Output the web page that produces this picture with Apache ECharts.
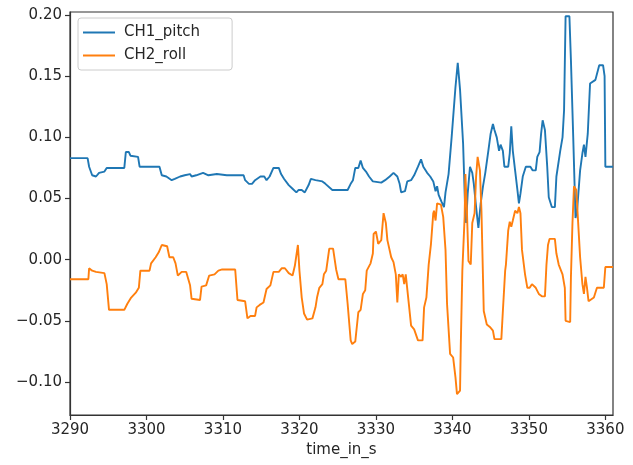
<!DOCTYPE html>
<html>
<head>
<meta charset="utf-8">
<script src="https://cdn.jsdelivr.net/npm/echarts@6/dist/echarts.min.js"></script>
<style>html,body{margin:0;padding:0;background:#fff;}#c{width:633px;height:465px;}</style>
</head>
<body>
<div id="c"></div>
<script>
const seriesNames = ['CH1_pitch', 'CH2_roll'];
const xTicks = [3290, 3300, 3310, 3320, 3330, 3340, 3350, 3360];
const yTicks = [-0.10, -0.05, 0.00, 0.05, 0.10, 0.15, 0.20];

const pitchTime = [3290.0,3292.3,3292.5,3292.9,3293.4,3293.8,3294.5,3294.8,3297.1,3297.3,3297.7,3297.9,3298.9,3299.1,3301.7,3302.0,3302.6,3303.3,3303.7,3304.4,3305.0,3305.7,3305.9,3306.5,3307.4,3308.1,3309.2,3310.5,3312.7,3312.9,3313.4,3313.8,3314.2,3314.9,3315.4,3315.7,3316.1,3316.6,3317.3,3317.6,3318.0,3318.2,3318.6,3319.1,3319.6,3319.9,3320.3,3320.7,3321.2,3321.5,3322.1,3323.0,3323.4,3324.3,3326.3,3326.7,3327.0,3327.3,3327.7,3328.0,3328.3,3328.7,3329.1,3329.6,3330.7,3331.2,3331.8,3332.3,3332.8,3333.1,3333.3,3333.8,3334.1,3334.6,3335.0,3335.5,3335.9,3336.2,3336.7,3337.1,3337.5,3337.8,3338.0,3338.2,3338.6,3338.9,3339.1,3339.5,3339.9,3340.4,3340.7,3341.0,3341.4,3341.7,3341.8,3342.0,3342.3,3342.6,3342.8,3343.1,3343.4,3343.7,3344.0,3344.3,3344.7,3345.0,3345.3,3345.5,3345.8,3346.1,3346.3,3346.6,3346.8,3347.3,3347.5,3347.7,3347.9,3348.2,3348.5,3348.7,3348.9,3349.2,3349.6,3350.2,3350.5,3350.9,3351.1,3351.4,3351.6,3351.8,3352.1,3352.4,3352.6,3353.0,3353.4,3353.6,3354.1,3354.4,3354.6,3354.8,3355.3,3355.5,3355.8,3356.1,3356.3,3356.7,3357.0,3357.2,3357.4,3357.7,3358.0,3358.7,3359.2,3359.7,3359.9,3360.0,3361.0];
const pitchVal = [0.083,0.083,0.076,0.069,0.068,0.071,0.072,0.075,0.075,0.088,0.088,0.085,0.084,0.076,0.076,0.069,0.068,0.065,0.066,0.068,0.069,0.070,0.068,0.069,0.071,0.069,0.070,0.069,0.069,0.065,0.062,0.062,0.065,0.068,0.068,0.065,0.068,0.075,0.075,0.070,0.066,0.065,0.061,0.058,0.055,0.057,0.057,0.055,0.061,0.066,0.065,0.064,0.062,0.057,0.057,0.062,0.065,0.075,0.075,0.081,0.075,0.072,0.068,0.064,0.063,0.065,0.068,0.071,0.068,0.062,0.055,0.056,0.064,0.065,0.069,0.076,0.082,0.076,0.071,0.068,0.064,0.056,0.060,0.053,0.047,0.043,0.055,0.070,0.100,0.141,0.161,0.139,0.095,0.035,0.030,0.054,0.076,0.071,0.062,0.043,0.026,0.046,0.060,0.071,0.089,0.103,0.111,0.106,0.100,0.089,0.094,0.089,0.076,0.076,0.087,0.109,0.089,0.073,0.057,0.046,0.054,0.068,0.076,0.076,0.073,0.073,0.084,0.088,0.103,0.114,0.106,0.076,0.051,0.043,0.043,0.068,0.089,0.100,0.122,0.199,0.199,0.163,0.100,0.034,0.040,0.073,0.087,0.094,0.084,0.103,0.144,0.147,0.159,0.159,0.150,0.076,0.076];

const rollTime = [3290.0,3292.4,3292.5,3292.9,3293.4,3294.5,3294.8,3295.1,3297.1,3297.5,3298.0,3298.6,3299.0,3299.2,3300.4,3300.6,3301.2,3301.6,3302.0,3302.7,3303.0,3303.5,3303.8,3304.1,3304.6,3305.2,3305.7,3305.9,3307.0,3307.2,3307.8,3308.2,3308.9,3309.4,3309.9,3311.6,3311.9,3312.9,3313.2,3313.6,3314.2,3314.4,3314.8,3315.3,3315.7,3316.2,3316.6,3317.3,3317.7,3318.1,3318.6,3319.1,3319.4,3319.8,3320.0,3320.3,3320.6,3321.0,3321.7,3322.1,3322.3,3322.6,3323.0,3323.2,3323.5,3323.9,3324.4,3324.8,3325.1,3326.0,3326.3,3326.7,3326.9,3327.3,3327.7,3328.0,3328.3,3328.6,3328.8,3329.3,3329.6,3329.7,3330.0,3330.3,3330.7,3331.0,3331.3,3331.5,3332.0,3332.3,3332.6,3332.8,3333.0,3333.3,3333.5,3333.7,3333.9,3334.3,3334.6,3335.0,3335.5,3336.1,3336.3,3336.6,3336.9,3337.2,3337.5,3337.6,3337.8,3338.0,3338.2,3338.5,3338.8,3339.1,3339.3,3339.7,3340.1,3340.4,3340.6,3341.0,3341.1,3341.3,3341.6,3341.7,3341.9,3342.1,3342.4,3342.6,3342.9,3343.1,3343.3,3343.6,3343.8,3344.1,3344.5,3344.9,3345.3,3345.5,3346.4,3346.6,3346.9,3347.0,3347.3,3347.5,3347.7,3347.9,3348.2,3348.5,3348.7,3348.9,3349.1,3349.5,3349.8,3350.1,3350.4,3350.9,3351.3,3351.7,3352.1,3352.3,3352.5,3352.7,3353.4,3353.6,3353.9,3354.4,3354.7,3354.8,3355.4,3355.5,3355.7,3355.9,3356.2,3356.4,3356.7,3357.0,3357.2,3357.4,3357.6,3357.8,3358.5,3358.9,3359.8,3360.0,3361.0];
const rollVal = [-0.016,-0.016,-0.007,-0.009,-0.010,-0.011,-0.020,-0.041,-0.041,-0.036,-0.031,-0.027,-0.023,-0.009,-0.009,-0.003,0.002,0.006,0.012,0.011,0.002,0.002,-0.003,-0.013,-0.010,-0.010,-0.021,-0.032,-0.033,-0.022,-0.021,-0.013,-0.012,-0.009,-0.008,-0.008,-0.033,-0.034,-0.048,-0.046,-0.046,-0.039,-0.037,-0.035,-0.024,-0.021,-0.010,-0.010,-0.007,-0.007,-0.011,-0.013,-0.005,0.012,-0.009,-0.031,-0.044,-0.049,-0.048,-0.039,-0.031,-0.023,-0.020,-0.012,-0.009,0.009,0.009,-0.008,-0.016,-0.016,-0.036,-0.066,-0.069,-0.067,-0.043,-0.041,-0.028,-0.025,-0.009,-0.003,0.005,0.021,0.023,0.013,0.016,0.038,0.030,0.016,0.002,-0.002,-0.012,-0.035,-0.012,-0.014,-0.012,-0.020,-0.012,-0.036,-0.054,-0.057,-0.066,-0.066,-0.039,-0.031,-0.004,0.013,0.038,0.040,0.032,0.046,0.046,0.045,0.035,0.008,-0.036,-0.077,-0.080,-0.096,-0.110,-0.107,-0.069,-0.009,0.035,0.070,0.040,-0.001,-0.004,0.030,0.038,0.068,0.084,0.073,0.040,-0.042,-0.053,-0.055,-0.058,-0.065,-0.065,-0.042,-0.009,-0.004,0.024,0.031,0.027,0.032,0.040,0.038,0.043,0.038,0.008,-0.012,-0.023,-0.023,-0.020,-0.023,-0.028,-0.030,-0.030,-0.004,0.012,0.017,0.017,0.005,-0.004,-0.012,-0.023,-0.050,-0.051,-0.014,0.030,0.060,0.057,0.035,0.002,-0.020,-0.028,-0.014,-0.023,-0.034,-0.031,-0.023,-0.023,-0.006,-0.006];

function zip(a, b) { return a.map((t, i) => [t, b[i]]); }

const FONT = 'DejaVu Sans';
const TXT = '#262626';
const AX = '#333333';

const chart = echarts.init(document.getElementById('c'), null, {renderer: 'canvas'});
chart.setOption({
  animation: false,
  backgroundColor: '#ffffff',
  grid: {left: 70, right: 20, top: 12, bottom: 50, show: true, borderColor: AX, borderWidth: 1.2, backgroundColor: 'transparent'},
  legend: {
    show: true, orient: 'vertical', left: 78, top: 18,
    data: seriesNames, icon: 'rect', itemWidth: 32, itemHeight: 2, itemGap: 8,
    padding: [7, 32, 7, 5], borderColor: '#cccccc', borderWidth: 1, borderRadius: 3,
    backgroundColor: 'rgba(255,255,255,0.8)',
    textStyle: {fontFamily: FONT, fontSize: 15, color: TXT, padding: [0, 0, 0, 4]}
  },
  xAxis: {
    type: 'value', min: 3290, max: 3361, interval: 10,
    name: 'time_in_s', nameLocation: 'middle', nameGap: 28,
    nameTextStyle: {fontFamily: FONT, fontSize: 15, color: TXT},
    axisLine: {show: true, onZero: false, lineStyle: {color: AX, width: 1.2}},
    axisTick: {show: true, length: 5, lineStyle: {color: AX, width: 1.2}, customValues: xTicks},
    axisLabel: {fontFamily: FONT, fontSize: 15, color: TXT, margin: 8, customValues: xTicks,
      formatter: v => String(Math.round(v))},
    splitLine: {show: false}
  },
  yAxis: {
    type: 'value', min: -0.127, max: 0.2025,
    axisLine: {show: true, onZero: false, lineStyle: {color: AX, width: 1.2}},
    axisTick: {show: true, length: 5, lineStyle: {color: AX, width: 1.2}, customValues: yTicks},
    axisLabel: {fontFamily: FONT, fontSize: 15, color: TXT, margin: 8, customValues: yTicks,
      formatter: v => (v < -1e-9 ? '\u2212' : '') + Math.abs(v).toFixed(2)},
    splitLine: {show: false}
  },
  series: [
    {name: seriesNames[0], type: 'line', data: zip(pitchTime, pitchVal), showSymbol: false, symbol: 'none',
     lineStyle: {color: '#1f77b4', width: 1.9}, itemStyle: {color: '#1f77b4'}},
    {name: seriesNames[1], type: 'line', data: zip(rollTime, rollVal), showSymbol: false, symbol: 'none',
     lineStyle: {color: '#ff7f0e', width: 1.9}, itemStyle: {color: '#ff7f0e'}}
  ]
});
</script>
</body>
</html>
